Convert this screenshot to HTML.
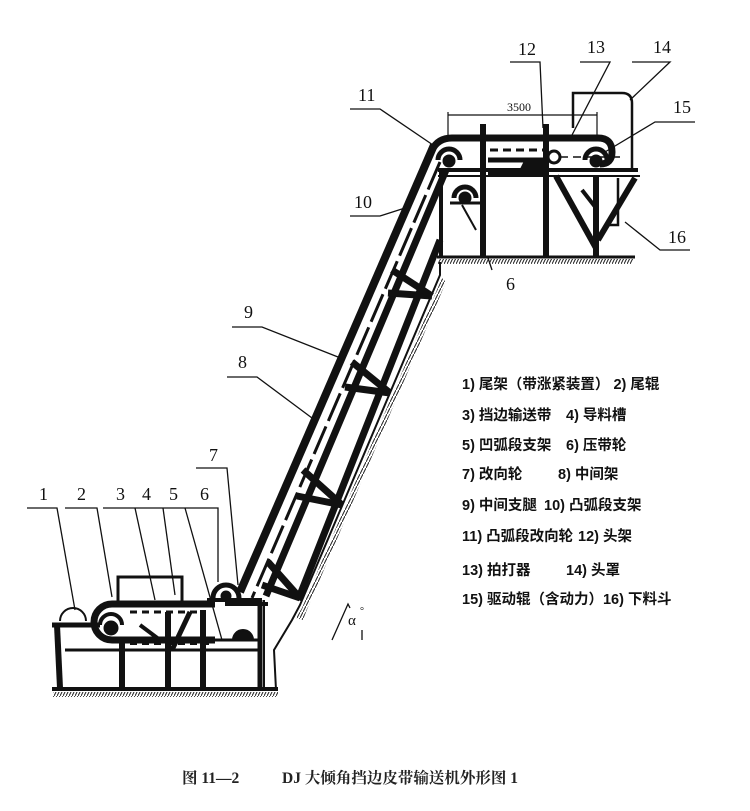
<!DOCTYPE html>
<html><head><meta charset="utf-8"><style>
html,body{margin:0;padding:0;background:#fff;}
svg{display:block}
.n{font-family:"Liberation Serif",serif;font-size:18px;fill:#111;}
.lg{font-family:"Liberation Sans","Noto Sans CJK SC",sans-serif;font-size:14.5px;font-weight:bold;fill:#111;}
.cap{font-family:"Liberation Serif","Noto Serif CJK SC",serif;font-size:15.5px;font-weight:bold;fill:#222;}
</style></head><body>
<svg width="750" height="811" viewBox="0 0 750 811" xmlns="http://www.w3.org/2000/svg">
<defs>
<pattern id="h" width="3" height="6" patternUnits="userSpaceOnUse"><line x1="0" y1="6" x2="3" y2="0" stroke="#222" stroke-width="1"/></pattern>
</defs>
<rect width="750" height="811" fill="#fff"/>
<g stroke="#111" fill="none" stroke-linecap="butt">
<!-- top ground -->
<line x1="437" y1="257" x2="635" y2="257" stroke-width="3"/>
<rect x="438" y="259" width="195" height="5" fill="url(#h)" stroke="none"/>
<!-- slope wall -->
<polyline points="440,262 440,275 300,605 292,620 274,650 276,690" stroke-width="2"/>
<polygon points="442,278 302,608 296,618 303,620 306,612 446,282" fill="url(#h)" stroke="none"/>
<!-- bottom ground -->
<line x1="52" y1="689" x2="278" y2="689" stroke-width="4"/>
<rect x="53" y="692" width="225" height="5" fill="url(#h)" stroke="none"/>

<!-- head cover 14 -->
<path d="M573,128 V93 H622 Q632,93 632,103 V170" stroke-width="2.5"/>
<path d="M618,178 V225 H605" stroke-width="2.5"/>
<!-- dimension -->
<line x1="448" y1="115" x2="597" y2="115" stroke-width="1.2"/>
<line x1="448" y1="112" x2="448" y2="138" stroke-width="1.2"/>
<line x1="597" y1="112" x2="597" y2="138" stroke-width="1.2"/>
<!-- top belt -->
<path d="M432,150 Q438,138 452,138 H598 Q612,138 612,152 Q612,164 600,164" stroke-width="7"/>
<line x1="490" y1="150" x2="545" y2="150" stroke-width="3" stroke-dasharray="8,5"/>
<line x1="560" y1="157" x2="620" y2="157" stroke-width="1.5" stroke-dasharray="8,5"/>
<path d="M438,160 A11,11 0 0 1 460,160" stroke-width="5"/>
<circle cx="449" cy="161" r="6" fill="#111"/>
<path d="M585,160 A11,11 0 0 1 607,160" stroke-width="5"/>
<circle cx="596" cy="161" r="6" fill="#111"/>
<circle cx="554" cy="157" r="6" stroke-width="3"/>
<line x1="488" y1="160" x2="545" y2="160" stroke-width="5"/>
<polygon points="520,170 545,170 545,160 525,160" fill="#111"/>
<!-- platform -->
<line x1="438" y1="170" x2="638" y2="170" stroke-width="4"/>
<line x1="438" y1="176" x2="640" y2="176" stroke-width="2"/>
<line x1="488" y1="174" x2="545" y2="174" stroke-width="5"/>
<!-- posts -->
<line x1="483" y1="124" x2="483" y2="257" stroke-width="6"/>
<line x1="546" y1="124" x2="546" y2="257" stroke-width="6"/>
<line x1="441" y1="170" x2="441" y2="257" stroke-width="4"/>
<line x1="596" y1="176" x2="596" y2="257" stroke-width="6"/>
<line x1="556" y1="176" x2="596" y2="248" stroke-width="6"/>
<line x1="635" y1="178" x2="598" y2="240" stroke-width="6"/>
<line x1="582" y1="190" x2="596" y2="208" stroke-width="4"/>
<!-- under pulley -->
<path d="M454,198 A11,11 0 0 1 476,198" stroke-width="5"/>
<circle cx="465" cy="198" r="6" fill="#111"/>
<line x1="450" y1="203" x2="480" y2="203" stroke-width="3"/>
<line x1="462" y1="205" x2="476" y2="230" stroke-width="2"/>

<!-- inclined belt & truss -->
<line x1="434" y1="145" x2="240" y2="592" stroke-width="8"/>
<line x1="440" y1="162" x2="252" y2="598" stroke-width="3" stroke-dasharray="30,6"/>
<line x1="446" y1="170" x2="266" y2="596" stroke-width="7"/>
<line x1="440" y1="240" x2="298" y2="600" stroke-width="7"/>
<!-- cross bars -->
<g stroke-width="7">
<line x1="388" y1="293" x2="432" y2="296"/><line x1="392" y1="270" x2="432" y2="296"/>
<line x1="345" y1="387" x2="390" y2="393"/><line x1="352" y1="362" x2="390" y2="393"/>
<line x1="297" y1="496" x2="342" y2="505"/><line x1="303" y1="470" x2="342" y2="505"/>
<line x1="262" y1="585" x2="300" y2="598"/><line x1="268" y1="562" x2="300" y2="598"/>
</g>

<!-- bottom section -->
<rect x="118" y="577" width="64" height="25" stroke-width="3"/>
<path d="M215,604 H112 A18,18 0 0 0 112,640 H215" stroke-width="7"/>
<line x1="130" y1="612" x2="205" y2="612" stroke-width="3" stroke-dasharray="7,5"/>
<line x1="130" y1="644" x2="210" y2="644" stroke-width="2" stroke-dasharray="7,5"/>
<path d="M100,625 A11,11 0 0 1 122,625" stroke-width="4"/>
<circle cx="111" cy="628" r="7" fill="#111"/>
<path d="M60,621 A13,13 0 0 1 86,621" stroke-width="2"/>
<line x1="52" y1="625" x2="100" y2="625" stroke-width="5"/>
<line x1="57" y1="625" x2="60" y2="688" stroke-width="6"/>
<line x1="65" y1="650" x2="260" y2="650" stroke-width="3"/>
<line x1="122" y1="640" x2="122" y2="688" stroke-width="6"/>
<line x1="168" y1="612" x2="168" y2="688" stroke-width="6"/>
<line x1="190" y1="612" x2="172" y2="650" stroke-width="5"/>
<line x1="140" y1="625" x2="160" y2="640" stroke-width="4"/>
<line x1="203" y1="610" x2="203" y2="688" stroke-width="6"/>
<line x1="260" y1="600" x2="260" y2="688" stroke-width="5"/>
<line x1="207" y1="600" x2="262" y2="600" stroke-width="4"/>
<line x1="207" y1="640" x2="262" y2="640" stroke-width="3"/>
<line x1="264" y1="600" x2="264" y2="688" stroke-width="2"/>
<path d="M213,598 A13,13 0 0 1 239,598" stroke-width="5"/>
<circle cx="226" cy="596" r="5" fill="#111"/>
<path d="M233,640 A10,10 0 0 1 253,640" fill="#111" stroke-width="2"/>
<line x1="225" y1="604" x2="268" y2="604" stroke-width="4"/>

<!-- leaders -->
<g stroke-width="1.3">
<polyline points="350,109 380,109 433,145"/>
<polyline points="350,216 380,216 405,208"/>
<polyline points="510,62 540,62 543,128"/>
<polyline points="580,62 610,62 572,135"/>
<polyline points="632,62 670,62 630,100"/>
<polyline points="695,122 655,122 605,152"/>
<polyline points="690,250 660,250 625,222"/>
<line x1="488" y1="258" x2="492" y2="270"/>
<polyline points="232,327 262,327 338,357"/>
<polyline points="227,377 257,377 312,418"/>
<polyline points="196,468 227,468 238,585"/>
<polyline points="27,508 57,508 75,610"/>
<polyline points="65,508 97,508 112,597"/>
<polyline points="103,508 218,508 218,582"/>
<line x1="135" y1="508" x2="155" y2="600"/>
<line x1="163" y1="508" x2="175" y2="595"/>
<line x1="185" y1="508" x2="222" y2="640"/>
<polyline points="332,640 348,604 350,608"/>
<line x1="362" y1="630" x2="362" y2="640"/>
</g>
</g>
<g class="n">
<text x="358" y="101">11</text>
<text x="354" y="208">10</text>
<text x="518" y="55">12</text>
<text x="587" y="53">13</text>
<text x="653" y="53">14</text>
<text x="673" y="113">15</text>
<text x="668" y="243">16</text>
<text x="506" y="290">6</text>
<text x="244" y="318">9</text>
<text x="238" y="368">8</text>
<text x="209" y="461">7</text>
<text x="39" y="500">1</text>
<text x="77" y="500">2</text>
<text x="116" y="500">3</text>
<text x="142" y="500">4</text>
<text x="169" y="500">5</text>
<text x="200" y="500">6</text>
<text x="507" y="111" font-size="12">3500</text>
<text x="348" y="625" font-size="15">α</text>
<text x="360" y="614" font-size="10">°</text>
</g>
<g class="lg">
<text x="462" y="389">1) 尾架（带涨紧装置） 2) 尾辊</text>
<text x="462" y="420">3) 挡边输送带</text><text x="566" y="420">4) 导料槽</text>
<text x="462" y="450">5) 凹弧段支架</text><text x="566" y="450">6) 压带轮</text>
<text x="462" y="479">7) 改向轮</text><text x="558" y="479">8) 中间架</text>
<text x="462" y="510">9) 中间支腿</text><text x="544" y="510">10) 凸弧段支架</text>
<text x="462" y="541">11) 凸弧段改向轮</text><text x="578" y="541">12) 头架</text>
<text x="462" y="575">13) 拍打器</text><text x="566" y="575">14) 头罩</text>
<text x="462" y="604">15) 驱动辊（含动力）16) 下料斗</text>
</g>
<text class="cap" x="182" y="783">图 11—2</text>
<text class="cap" x="282" y="783">DJ 大倾角挡边皮带输送机外形图 1</text>
</svg>
</body></html>
